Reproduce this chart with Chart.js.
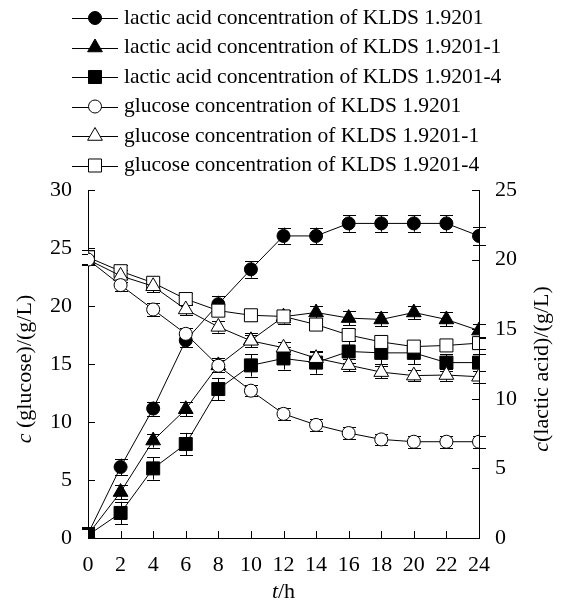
<!DOCTYPE html>
<html lang="en">
  <head>
    <meta charset="UTF-8" />
    <title>Lactic acid and glucose concentration during fermentation</title>
    <script src="https://cdn.jsdelivr.net/npm/chart.js"></script>
    <style>
      body { margin: 0; background: #fff; }
      .wrap { width: 563px; height: 605px; position: relative; }
    </style>
  </head>
  <body>
    <div class="wrap"><canvas id="fermChart"></canvas></div>

    <script>
      // sampling times (h)
      const hours = [0, 2, 4, 6, 8, 10, 12, 14, 16, 18, 20, 22, 24];

      // lactic acid (g/L), right axis
      const lacticA = [0.3, 5.1, 9.3, 14.2, 16.8, 19.3, 21.7, 21.7, 22.6, 22.6, 22.6, 22.6, 21.7];
      const lacticB = [0.25, 3.3, 7.0, 9.25, 12.4, 14.2, 15.9, 16.2, 15.8, 15.7, 16.2, 15.7, 14.9];
      const lacticC = [0.2, 1.8, 5.0, 6.75, 10.7, 12.4, 12.9, 12.6, 13.4, 13.3, 13.3, 12.6, 12.6];
      // glucose (g/L), left axis
      const glucoseA = [24.0, 21.8, 19.7, 17.6, 14.85, 12.7, 10.7, 9.75, 9.05, 8.5, 8.3, 8.3, 8.3];
      const glucoseB = [24.0, 22.6, 21.7, 19.7, 18.2, 17.0, 16.4, 15.5, 14.9, 14.3, 14.0, 14.05, 13.9];
      const glucoseC = [24.2, 23.0, 22.0, 20.6, 19.6, 19.2, 19.1, 18.4, 17.5, 16.9, 16.5, 16.6, 16.8];

      // error bars (+/-), same units as the series
      const lacticAErr = [0.5, 0.6, 0.5, 0.5, 0.6, 0.6, 0.6, 0.6, 0.6, 0.6, 0.6, 0.6, 0.65];
      const lacticBErr = [0.4, 0.5, 0.5, 0.5, 0.5, 0.5, 0.5, 0.5, 0.5, 0.5, 0.5, 0.5, 0.5];
      const lacticCErr = [0.5, 0.8, 0.8, 0.8, 0.8, 0.8, 0.8, 0.8, 0.8, 0.8, 0.8, 0.6, 0.6];
      const glucoseAErr = [0.5, 0.5, 0.55, 0.5, 0.5, 0.5, 0.5, 0.5, 0.5, 0.5, 0.5, 0.5, 0.5];
      const glucoseBErr = [0.5, 0.5, 0.5, 0.5, 0.5, 0.5, 0.5, 0.5, 0.5, 0.5, 0.5, 0.5, 0.5];
      const glucoseCErr = [0.6, 0.5, 0.5, 0.5, 0.5, 0.5, 0.5, 0.5, 0.5, 0.5, 0.5, 0.5, 0.5];

      const serif = "'Liberation Serif', 'Times New Roman', serif";

      const series = [
        { label: "lactic acid concentration of KLDS 1.9201", data: lacticA, err: lacticAErr, axis: "yR", style: "circle", filled: true },
        { label: "lactic acid concentration of KLDS 1.9201-1", data: lacticB, err: lacticBErr, axis: "yR", style: "triangle", filled: true },
        { label: "lactic acid concentration of KLDS 1.9201-4", data: lacticC, err: lacticCErr, axis: "yR", style: "rect", filled: true },
        { label: "glucose concentration of KLDS 1.9201", data: glucoseA, err: glucoseAErr, axis: "yL", style: "circle", filled: false },
        { label: "glucose concentration of KLDS 1.9201-1", data: glucoseB, err: glucoseBErr, axis: "yL", style: "triangle", filled: false },
        { label: "glucose concentration of KLDS 1.9201-4", data: glucoseC, err: glucoseCErr, axis: "yL", style: "rect", filled: false },
      ];

      const radiusFor = { circle: 6.5, triangle: 8.5, rect: 9.2 };

      const datasets = series.map((s) => ({
        label: s.label,
        data: hours.map((t, i) => ({ x: t, y: s.data[i] })),
        errors: s.err,
        yAxisID: s.axis,
        borderColor: "#000",
        borderWidth: 1,
        pointStyle: s.style,
        pointRadius: radiusFor[s.style],
        pointBorderColor: "#000",
        pointBorderWidth: 1,
        pointBackgroundColor: s.filled ? "#000" : "#fff",
        fill: false,
        tension: 0,
        order: s.filled ? 1 : 0, // open markers sit on top
      }));

      // draw text with an italic leading symbol
      function mixedText(ctx, parts, x, y) {
        let total = 0;
        parts.forEach((p) => {
          ctx.font = p.font;
          total += ctx.measureText(p.text).width;
        });
        let cx = x - total / 2;
        parts.forEach((p) => {
          ctx.font = p.font;
          ctx.fillText(p.text, cx, y);
          cx += ctx.measureText(p.text).width;
        });
      }

      function marker(ctx, style, r, filled, x, y) {
        ctx.save();
        ctx.fillStyle = filled ? "#000" : "#fff";
        ctx.strokeStyle = "#000";
        ctx.lineWidth = 1;
        ctx.beginPath();
        if (style === "circle") {
          ctx.arc(x, y, r, 0, Math.PI * 2);
        } else if (style === "triangle") {
          for (let k = 0; k < 3; k++) {
            const a = (k * 2 * Math.PI) / 3;
            const px = x + Math.sin(a) * r;
            const py = y - Math.cos(a) * r;
            k === 0 ? ctx.moveTo(px, py) : ctx.lineTo(px, py);
          }
          ctx.closePath();
        } else {
          const h = r * Math.SQRT1_2;
          ctx.rect(x - h, y - h, 2 * h, 2 * h);
        }
        ctx.fill();
        ctx.stroke();
        ctx.restore();
      }

      const extras = {
        id: "extras",
        beforeDatasetsDraw(chart) {
          const ctx = chart.ctx;
          ctx.save();
          ctx.strokeStyle = "#000";
          ctx.lineWidth = 1;
          chart.data.datasets.forEach((ds, i) => {
            const meta = chart.getDatasetMeta(i);
            const ys = chart.scales[ds.yAxisID];
            meta.data.forEach((pt, j) => {
              const v = ds.data[j].y;
              const e = ds.errors[j];
              const top = ys.getPixelForValue(v + e);
              const bot = ys.getPixelForValue(Math.max(v - e, 0));
              const x = Math.round(pt.x) + 0.5;
              ctx.beginPath();
              ctx.moveTo(x, top);
              ctx.lineTo(x, bot);
              ctx.moveTo(x - 6.5, Math.round(top) + 0.5);
              ctx.lineTo(x + 6.5, Math.round(top) + 0.5);
              if (v - e > 0) {
                ctx.moveTo(x - 6.5, Math.round(bot) + 0.5);
                ctx.lineTo(x + 6.5, Math.round(bot) + 0.5);
              }
              ctx.stroke();
            });
          });
          ctx.restore();
        },
        afterDraw(chart) {
          const ctx = chart.ctx;
          const { x, yL, yR } = chart.scales;
          const area = chart.chartArea;
          const tick = 7;
          ctx.save();
          ctx.strokeStyle = "#000";
          ctx.lineWidth = 1;
          ctx.beginPath();
          x.ticks.forEach((t) => {
            const px = Math.round(x.getPixelForValue(t.value)) + 0.5;
            ctx.moveTo(px, area.bottom);
            ctx.lineTo(px, area.bottom - tick);
          });
          yL.ticks.forEach((t) => {
            const py = Math.round(yL.getPixelForValue(t.value)) + 0.5;
            ctx.moveTo(area.left, py);
            ctx.lineTo(area.left + tick, py);
          });
          yR.ticks.forEach((t) => {
            const py = Math.round(yR.getPixelForValue(t.value)) + 0.5;
            ctx.moveTo(area.right, py);
            ctx.lineTo(area.right - tick, py);
          });
          ctx.stroke();

          // axis titles
          ctx.fillStyle = "#000";
          ctx.textBaseline = "middle";
          ctx.textAlign = "left";
          const midY = (area.top + area.bottom) / 2 + 5;
          mixedText(ctx, [
            { text: "t", font: "italic 22px " + serif },
            { text: "/h", font: "22px " + serif },
          ], (area.left + area.right) / 2, 592);

          ctx.save();
          ctx.translate(25, midY);
          ctx.rotate(-Math.PI / 2);
          mixedText(ctx, [
            { text: "c", font: "italic 22px " + serif },
            { text: " (glucose)/(g/L)", font: "22px " + serif },
          ], 0, 0);
          ctx.restore();

          ctx.save();
          ctx.translate(542, midY);
          ctx.rotate(-Math.PI / 2);
          mixedText(ctx, [
            { text: "c", font: "italic 22px " + serif },
            { text: "(lactic acid)/(g/L)", font: "22px " + serif },
          ], 0, 0);
          ctx.restore();

          // legend
          ctx.font = "21.5px " + serif;
          series.forEach((s, i) => {
            const ly = 18 + i * 29.5;
            ctx.beginPath();
            ctx.moveTo(72, Math.round(ly) + 0.5);
            ctx.lineTo(118, Math.round(ly) + 0.5);
            ctx.stroke();
            marker(ctx, s.style, radiusFor[s.style], s.filled, 95, ly);
            ctx.fillStyle = "#000";
            ctx.fillText(s.label, 124, ly);
          });
          ctx.restore();
        },
      };

      const tickFont = { family: serif, size: 22 };
      const border = { display: true, color: "#000", width: 1 };

      new Chart(document.getElementById("fermChart"), {
        type: "line",
        data: { datasets },
        options: {
          responsive: true,
          maintainAspectRatio: false,
          animation: false,
          layout: { padding: { top: 190, left: 0, right: 0, bottom: 0 } },
          plugins: { legend: { display: false }, tooltip: { enabled: false } },
          scales: {
            x: {
              type: "linear",
              min: 0,
              max: 24,
              ticks: { stepSize: 2, color: "#000", font: tickFont, padding: 14, maxRotation: 0 },
              grid: { display: false, drawTicks: false },
              border,
              afterFit: (s) => { s.height = 67; },
            },
            yL: {
              position: "left",
              min: 0,
              max: 30,
              ticks: { stepSize: 5, color: "#000", font: tickFont, padding: 16 },
              grid: { display: false, drawTicks: false },
              border,
              afterFit: (s) => { s.width = 88; },
            },
            yR: {
              position: "right",
              min: 0,
              max: 25,
              ticks: { stepSize: 5, color: "#000", font: tickFont, padding: 16 },
              grid: { display: false, drawTicks: false },
              border,
              afterFit: (s) => { s.width = 84; },
            },
          },
        },
        plugins: [extras],
      });
    </script>
  </body>
</html>
